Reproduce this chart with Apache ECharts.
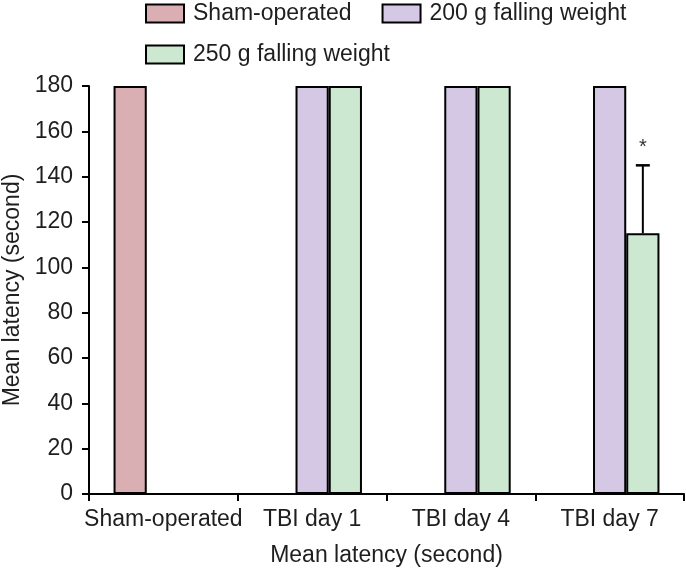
<!DOCTYPE html>
<html><head><meta charset="utf-8">
<script src="https://cdn.jsdelivr.net/npm/echarts@6/dist/echarts.min.js"></script>
<style>html,body{margin:0;padding:0;background:#fff}#c{width:686px;height:571px}</style>
</head><body><div id="c"></div>
<script>
var categories = ['Sham-operated', 'TBI day 1', 'TBI day 4', 'TBI day 7'];
var seriesNames = ['Sham-operated', '200 g falling weight', '250 g falling weight'];
var shamValues = [180, 0, 0, 0];
var w200Values = [0, 180, 180, 180];
var w250Values = [0, 180, 180, 115];
var w250ErrUpper = [null, null, null, 30];
var w250Marks = ['', '', '', '*'];
var yTicks = [0, 20, 40, 60, 80, 100, 120, 140, 160, 180];

var FONT = 'Liberation Sans, Arial, sans-serif';
var FS = 23;
var TXT = '#1e1e1e';
var colors = ['#D9AFB3', '#D4C8E4', '#CDE8D0'];
var catGap = 0.33;

var chart = echarts.init(document.getElementById('c'), null, {renderer: 'canvas'});

var errData = [];
for (var i = 0; i < categories.length; i++) {
  if (w250ErrUpper[i] != null) errData.push([i, w250Values[i], w250Values[i] + w250ErrUpper[i], w250Marks[i]]);
}

function barStyle(c) { return {color: c, borderColor: '#000', borderWidth: 2}; }

chart.setOption({
  animation: false,
  textStyle: {fontFamily: FONT},
  grid: {left: 89, right: 2, top: 86, bottom: 77, containLabel: false, outerBoundsMode: 'none'},
  legend: [{
    data: [seriesNames[0], seriesNames[1]], left: 145, top: 2, padding: 0, itemWidth: 38, itemHeight: 18, itemGap: 30,
    textStyle: {fontSize: FS, color: TXT, fontFamily: FONT, padding: [0, 0, 0, 4]}, icon: 'rect'
  }, {
    data: [seriesNames[2]], left: 145, top: 43, padding: 0, itemWidth: 38, itemHeight: 18,
    textStyle: {fontSize: FS, color: TXT, fontFamily: FONT, padding: [0, 0, 0, 4]}, icon: 'rect'
  }],
  xAxis: {
    type: 'category', data: categories,
    axisLine: {lineStyle: {color: '#000', width: 2}},
    axisTick: {show: true, interval: 0, length: 7, lineStyle: {color: '#000', width: 2}},
    axisLabel: {interval: 0, fontSize: FS, color: TXT, margin: 14, fontFamily: FONT},
    name: 'Mean latency (second)', nameLocation: 'middle', nameGap: 50,
    nameTextStyle: {fontSize: FS, color: TXT, fontFamily: FONT}
  },
  yAxis: {
    type: 'value', min: 0, max: 180, interval: 20,
    axisLine: {show: true, lineStyle: {color: '#000', width: 2}},
    axisTick: {show: true, length: 7, lineStyle: {color: '#000', width: 2}},
    axisLabel: {fontSize: FS, color: TXT, margin: 16, fontFamily: FONT,
      formatter: function (v) { return yTicks.indexOf(v) >= 0 ? String(v) : ''; }},
    splitLine: {show: false},
    name: 'Mean latency (second)', nameLocation: 'middle', nameGap: 62, nameRotate: 90,
    nameTextStyle: {fontSize: FS, color: TXT, fontFamily: FONT}
  },
  series: [
    {name: seriesNames[0], type: 'bar', data: shamValues, barGap: 0, barCategoryGap: (catGap * 100) + '%', itemStyle: barStyle(colors[0])},
    {name: seriesNames[1], type: 'bar', data: w200Values, barGap: 0, barCategoryGap: (catGap * 100) + '%', itemStyle: barStyle(colors[1])},
    {name: seriesNames[2], type: 'bar', data: w250Values, barGap: 0, barCategoryGap: (catGap * 100) + '%', itemStyle: barStyle(colors[2])},
    {
      type: 'custom', data: errData, z: 10, silent: true,
      renderItem: function (params, api) {
        var idx = api.value(0);
        var band = api.size([1, 0])[0];
        var bw = band * (1 - catGap) / 3;
        var base = api.coord([idx, api.value(1)]);
        var top = api.coord([idx, api.value(2)]);
        var x = base[0] + bw;
        return {type: 'group', children: [
          {type: 'line', shape: {x1: x, y1: base[1], x2: x, y2: top[1]}, style: {stroke: '#000', lineWidth: 2}},
          {type: 'line', shape: {x1: x - 7, y1: top[1], x2: x + 7, y2: top[1]}, style: {stroke: '#000', lineWidth: 2.5}},
          {type: 'text', x: x, y: top[1] - 18, style: {text: api.value(3), fill: '#333', font: '20px ' + FONT, align: 'center', verticalAlign: 'middle'}}
        ]};
      }
    }
  ]
});
</script></body></html>
